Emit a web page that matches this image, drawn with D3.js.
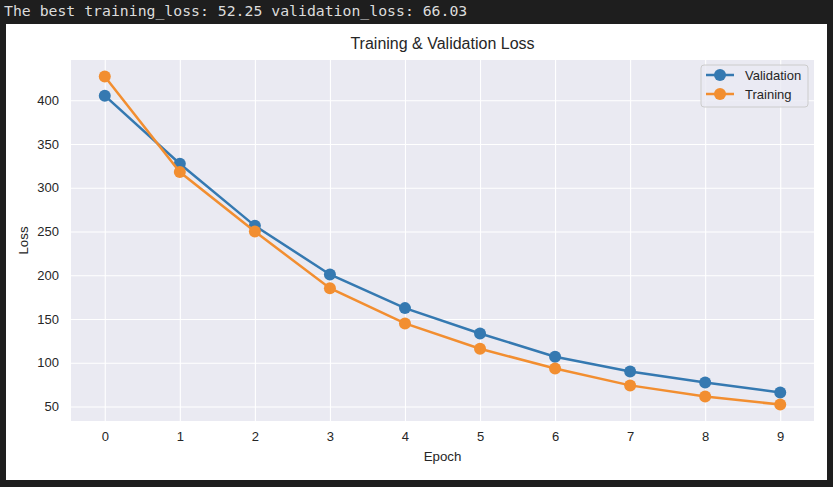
<!DOCTYPE html>
<html>
<head>
<meta charset="utf-8">
<script src="https://cdn.jsdelivr.net/npm/d3@7"></script>
<style>
  html, body { margin: 0; padding: 0; background: #1e1e1e; }
  svg { display: block; }
</style>
</head>
<body>
<svg id="chart" width="833" height="487"></svg>
<script>
// --- Data ---
const epochs = [0, 1, 2, 3, 4, 5, 6, 7, 8, 9];
const validationLoss = [405.3, 327.5, 256.5, 201, 162.5, 133.5, 107, 90, 77.5, 66.03];
const trainingLoss = [427.3, 318, 250, 185.2, 145, 116, 93.5, 74.2, 61.5, 52.25];
const yTicks = [50, 100, 150, 200, 250, 300, 350, 400];
const seriesNames = ['Validation', 'Training'];
const seriesColors = ['#3579b1', '#f28e30'];

const headerText = 'The best training_loss: 52.25 validation_loss: 66.03';

// --- Layout ---
const svg = d3.select('#chart');
const plot = { left: 71, right: 814, top: 60, bottom: 421 };
const sans = '"Liberation Sans", Arial, sans-serif';

// header line printed above the figure
svg.append('text')
    .attr('x', 4)
    .attr('y', 16)
    .attr('fill', '#dcdcdc')
    .style('font-family', '"DejaVu Sans Mono", monospace')
    .style('font-size', '14.8px')
    .text(headerText);

// white figure panel
svg.append('rect')
    .attr('x', 6).attr('y', 24)
    .attr('width', 821).attr('height', 456)
    .attr('fill', '#ffffff');

// --- Scales ---
const x = d3.scaleLinear()
    .domain([-0.45, 9.45])
    .range([plot.left, plot.right]);

const allValues = validationLoss.concat(trainingLoss);
const [yMin, yMax] = d3.extent(allValues);
const pad = (yMax - yMin) * 0.05;
const y = d3.scaleLinear()
    .domain([yMin - pad, yMax + pad])
    .range([plot.bottom, plot.top]);

// plot background
svg.append('rect')
    .attr('x', plot.left).attr('y', plot.top)
    .attr('width', plot.right - plot.left)
    .attr('height', plot.bottom - plot.top)
    .attr('fill', '#eaeaf2');

// --- Axes (grid lines drawn as ticks) ---
const xAxis = svg.append('g')
    .attr('transform', `translate(0,${plot.bottom})`)
    .call(d3.axisBottom(x).tickValues(epochs).tickSize(-(plot.bottom - plot.top)).tickPadding(11));

const yAxis = svg.append('g')
    .attr('transform', `translate(${plot.left},0)`)
    .call(d3.axisLeft(y).tickValues(yTicks).tickSize(-(plot.right - plot.left)).tickPadding(12));

[xAxis, yAxis].forEach(ax => {
    ax.select('.domain').remove();
    ax.selectAll('.tick line').attr('stroke', '#ffffff').attr('stroke-width', 1.1);
    ax.selectAll('.tick text')
        .attr('fill', '#262626')
        .style('font-family', sans)
        .style('font-size', '13px');
});

// --- Axis labels and title ---
svg.append('text')
    .attr('x', (plot.left + plot.right) / 2)
    .attr('y', 461)
    .attr('text-anchor', 'middle')
    .attr('fill', '#262626')
    .style('font-family', sans)
    .style('font-size', '13.3px')
    .text('Epoch');

svg.append('text')
    .attr('transform', `translate(28,${(plot.top + plot.bottom) / 2}) rotate(-90)`)
    .attr('text-anchor', 'middle')
    .attr('fill', '#262626')
    .style('font-family', sans)
    .style('font-size', '13.3px')
    .text('Loss');

svg.append('text')
    .attr('x', (plot.left + plot.right) / 2)
    .attr('y', 49)
    .attr('text-anchor', 'middle')
    .attr('fill', '#262626')
    .style('font-family', sans)
    .style('font-size', '16px')
    .text('Training & Validation Loss');

// --- Series ---
const series = [validationLoss, trainingLoss];
const line = d3.line()
    .x((d, i) => x(epochs[i]))
    .y(d => y(d));

series.forEach((values, s) => {
    const g = svg.append('g');
    g.append('path')
        .datum(values)
        .attr('d', line)
        .attr('fill', 'none')
        .attr('stroke', seriesColors[s])
        .attr('stroke-width', 2.5);
    g.selectAll('circle')
        .data(values)
        .enter()
        .append('circle')
        .attr('cx', (d, i) => x(epochs[i]))
        .attr('cy', d => y(d))
        .attr('r', 6)
        .attr('fill', seriesColors[s]);
});

// --- Legend ---
const legend = svg.append('g').attr('transform', 'translate(701,65)');
legend.append('rect')
    .attr('width', 107).attr('height', 42)
    .attr('rx', 3)
    .attr('fill', '#eaeaf2')
    .attr('fill-opacity', 0.8)
    .attr('stroke', '#cccccc')
    .attr('stroke-width', 1);

seriesNames.forEach((name, i) => {
    const row = legend.append('g').attr('transform', `translate(0,${10 + i * 19})`);
    row.append('line')
        .attr('x1', 5).attr('x2', 33)
        .attr('stroke', seriesColors[i])
        .attr('stroke-width', 2.5);
    row.append('circle')
        .attr('cx', 19).attr('r', 6)
        .attr('fill', seriesColors[i]);
    row.append('text')
        .attr('x', 44).attr('dy', '0.35em')
        .attr('fill', '#262626')
        .style('font-family', sans)
        .style('font-size', '13px')
        .text(name);
});
</script>
</body>
</html>
